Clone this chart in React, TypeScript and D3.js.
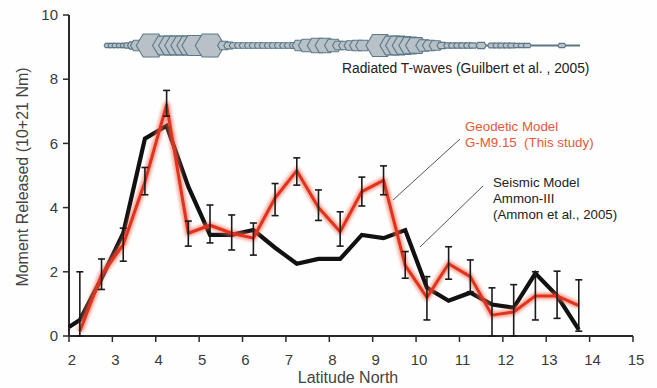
import React from 'react';
import * as d3 from 'd3';

// Geodetic model (red) — latitude, moment, error bar low/high
const geoLat = [2.25, 2.75, 3.25, 3.75, 4.25, 4.75, 5.25, 5.75, 6.25, 6.75, 7.25, 7.75, 8.25, 8.75, 9.25, 9.75, 10.25, 10.75, 11.25, 11.75, 12.25, 12.75, 13.25, 13.75];
const geoVal = [0.15, 1.9, 2.85, 4.8, 7.2, 3.2, 3.45, 3.2, 3.05, 4.3, 5.15, 4.0, 3.25, 4.5, 4.85, 2.2, 1.2, 2.25, 1.85, 0.65, 0.75, 1.25, 1.25, 0.95];
const geoLow = [0, 1.45, 2.33, 4.4, 6.85, 2.8, 2.9, 2.68, 2.52, 3.75, 4.7, 3.6, 2.8, 4.05, 4.4, 1.8, 0.5, 1.77, 1.38, 0, 0, 0.5, 0.55, 0.15];
const geoHigh = [2.0, 2.4, 3.36, 5.25, 7.65, 3.58, 4.08, 3.77, 3.52, 4.75, 5.55, 4.55, 3.87, 4.95, 5.3, 2.63, 1.85, 2.78, 2.37, 1.5, 1.6, 2.0, 2.02, 1.75];

// Seismic model (black)
const seisLat = [2.0, 2.25, 2.75, 3.25, 3.75, 4.25, 4.75, 5.25, 5.75, 6.25, 6.75, 7.25, 7.75, 8.25, 8.75, 9.25, 9.75, 10.25, 10.75, 11.25, 11.75, 12.25, 12.75, 13.25, 13.75];
const seisVal = [0.28, 0.5, 1.8, 3.2, 6.15, 6.55, 4.65, 3.15, 3.15, 3.3, 2.75, 2.25, 2.4, 2.4, 3.15, 3.05, 3.3, 1.5, 1.1, 1.35, 0.98, 0.88, 1.95, 1.25, 0.2];

// Radiated T-waves glyph (latitude, relative amplitude)
const tLat = [2.90, 2.99, 3.08, 3.18, 3.27, 3.36, 3.48, 3.59, 3.89, 4.21, 4.35, 4.49, 4.63, 4.77, 4.90, 5.25, 5.57, 5.69, 5.80, 5.92, 6.03, 6.15, 6.26, 6.38, 6.49, 6.61, 6.72, 6.84, 6.96, 7.07, 7.19, 7.32, 7.49, 7.72, 7.90, 8.09, 8.22, 8.36, 8.50, 8.64, 8.78, 9.17, 9.45, 9.58, 9.72, 9.86, 10.00, 10.18, 10.32, 10.46, 10.60, 10.74, 10.85, 10.97, 11.08, 11.20, 11.31, 11.50, 11.75, 11.87, 11.98, 12.10, 12.21, 12.33, 12.44, 12.56, 13.36];
const tAmp = [2, 2, 2, 2, 2, 2.5, 3.5, 5, 11, 9, 9, 9, 9, 9, 9.5, 11, 4, 3.2, 2.6, 2.6, 2.6, 2.6, 2.6, 2.6, 2.6, 2.6, 2.6, 2.6, 2.6, 2.6, 2.8, 5, 6, 7, 7, 6, 4, 4, 4.5, 5, 5, 10.5, 9, 9, 8.5, 8, 7.5, 5.5, 5, 4.5, 3, 2.5, 2.5, 2.5, 2.5, 2.5, 2.5, 3, 2.3, 2.3, 2.3, 2.3, 2.3, 2, 2, 2, 2];
const tStart = 2.9;
const tEnd = 13.78;
const tLevel = 9.05;

const xTicks = [2, 3, 4, 5, 6, 7, 8, 9, 10, 11, 12, 13, 14, 15];
const yTicks = [0, 2, 4, 6, 8, 10];

const FONT = '"Liberation Sans", Arial, Helvetica, sans-serif';

export default function App() {
  const x = d3.scaleLinear().domain([2, 15]).range([69, 633]);
  const y = d3.scaleLinear().domain([0, 10]).range([336, 15]);
  const amp = d3.scaleLinear().domain([0, 11]).range([0, 11.5]);

  const line = d3.line<[number, number]>().x(d => x(d[0])).y(d => y(d[1]));
  const geoPath = line(geoLat.map((l, i) => [l, geoVal[i]] as [number, number])) || '';
  const seisPath = line(seisLat.map((l, i) => [l, seisVal[i]] as [number, number])) || '';

  const hex = (cx: number, cy: number, h: number) => {
    const w = h * 1.15 + 1.5;
    const a = h * 0.6;
    return `M${cx - w},${cy}L${cx - w + a},${cy - h}L${cx + w - a},${cy - h}L${cx + w},${cy}L${cx + w - a},${cy + h}L${cx - w + a},${cy + h}Z`;
  };
  const ty = y(tLevel);

  return (
    <svg width={657} height={388} style={{ position: 'absolute', left: 0, top: 0, background: '#fff' }} fontFamily={FONT}>
      <defs>
        <filter id="glow" x="-10%" y="-10%" width="120%" height="120%">
          <feGaussianBlur stdDeviation="1.6" />
        </filter>
      </defs>
      <rect width={657} height={388} fill="#fefefe" />

      {/* T-wave glyph */}
      <line x1={x(tStart)} x2={x(tEnd)} y1={ty} y2={ty} stroke="#5b7886" strokeWidth={2} />
      {tLat.map((l, i) => (
        <path key={i} d={hex(x(l), ty, amp(tAmp[i]))} fill="#b8c1c8" stroke="#5b7886" strokeWidth={1.1} />
      ))}
      <text x={342} y={73} fontSize={13.8} fill="#222">Radiated T-waves (Guilbert et al. , 2005)</text>

      {/* axes */}
      <line x1={69} x2={69} y1={y(10)} y2={y(0)} stroke="#2a2a2a" strokeWidth={2} />
      <line x1={69} x2={x(15)} y1={y(0)} y2={y(0)} stroke="#2a2a2a" strokeWidth={2} />
      {yTicks.map(t => (
        <g key={'y' + t}>
          <line x1={63} x2={69} y1={y(t)} y2={y(t)} stroke="#2a2a2a" strokeWidth={1.5} />
          <text x={58} y={y(t)} dy="0.35em" textAnchor="end" fontSize={15} fill="#3a3a3a">{t}</text>
        </g>
      ))}
      {xTicks.map(t => (
        <g key={'x' + t}>
          <line x1={x(t)} x2={x(t)} y1={y(0)} y2={y(0) + 6} stroke="#2a2a2a" strokeWidth={1.5} />
          <text x={x(t) + 3} y={365} textAnchor="middle" fontSize={15} fill="#3a3a3a">{t}</text>
        </g>
      ))}
      <text x={348} y={383} textAnchor="middle" fontSize={16} fill="#444">Latitude North</text>
      <text transform={`translate(28,177) rotate(-90)`} textAnchor="middle" fontSize={16} fill="#444">Moment Released (10+21 Nm)</text>

      {/* series */}
      <path d={seisPath} fill="none" stroke="#111" strokeWidth={4.2} strokeLinejoin="miter" strokeMiterlimit={4} />
      <path d={geoPath} fill="none" stroke="#ee6a52" strokeWidth={7} strokeLinejoin="round" opacity={0.6} filter="url(#glow)" />
      <path d={geoPath} fill="none" stroke="#e2321c" strokeWidth={3} strokeLinejoin="round" />

      {/* error bars */}
      {geoLat.map((l, i) => (
        <g key={'e' + i} stroke="#1a1a1a" strokeWidth={1.6}>
          <line x1={x(l)} x2={x(l)} y1={y(geoLow[i])} y2={y(geoHigh[i])} />
          <line x1={x(l) - 3.5} x2={x(l) + 3.5} y1={y(geoHigh[i])} y2={y(geoHigh[i])} />
          <line x1={x(l) - 3.5} x2={x(l) + 3.5} y1={y(geoLow[i])} y2={y(geoLow[i])} />
        </g>
      ))}

      {/* annotations */}
      <line x1={460} y1={139} x2={393} y2={200} stroke="#555" strokeWidth={1} />
      <line x1={483} y1={186} x2={420} y2={247} stroke="#555" strokeWidth={1} />
      <text x={465} y={131} fontSize={13.3} fill="#e4583a">Geodetic Model</text>
      <text x={465} y={147} fontSize={13.3} fill="#e4583a" xmlSpace="preserve">G-M9.15  (This study)</text>
      <text x={493} y={187} fontSize={13.3} fill="#222">Seismic Model</text>
      <text x={493} y={203} fontSize={13.3} fill="#222">Ammon-III</text>
      <text x={493} y={219} fontSize={13.3} fill="#222">(Ammon et al., 2005)</text>
    </svg>
  );
}
